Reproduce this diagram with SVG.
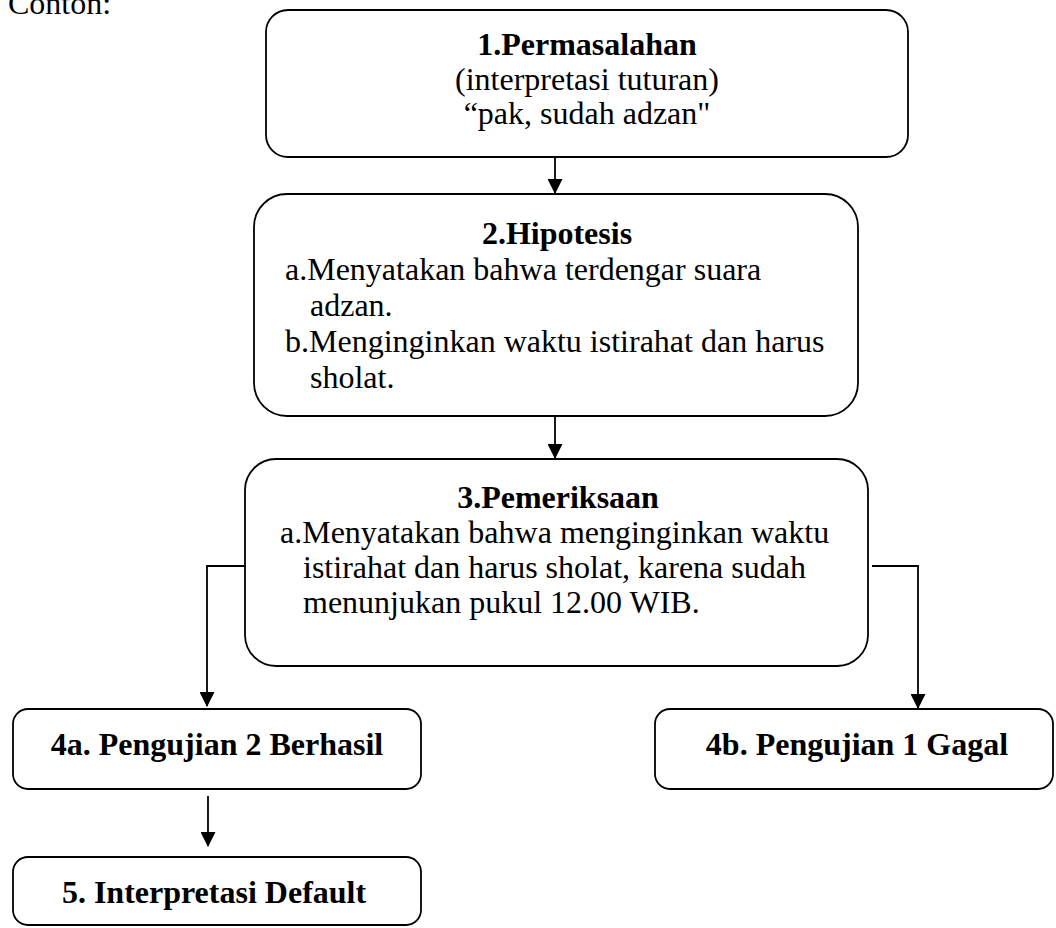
<svg xmlns="http://www.w3.org/2000/svg" width="1056" height="928" viewBox="0 0 1056 928">
<style>
text{font-family:"Liberation Serif","Times New Roman",serif;font-size:32px;fill:#000}
.b{font-weight:bold}
.c{text-anchor:middle}
.box{fill:#fff;stroke:#000;stroke-width:1.8}
.ln{fill:none;stroke:#000;stroke-width:1.8}
</style>
<defs>
<marker id="ah" markerWidth="15" markerHeight="15" viewBox="0 0 15 15" refX="14" refY="7.5" orient="auto" markerUnits="userSpaceOnUse">
<path d="M0,0 L15,7.5 L0,15 Z" fill="#000"/>
</marker>
</defs>
<rect width="1056" height="928" fill="#fff"/>
<text x="8" y="14">Conton:</text>
<g id="connectors">
<line class="ln" x1="555" y1="157" x2="555" y2="193" marker-end="url(#ah)"/>
<line class="ln" x1="555" y1="416" x2="555" y2="458" marker-end="url(#ah)"/>
<polyline class="ln" points="248,566 207,566 207,706" marker-end="url(#ah)"/>
<polyline class="ln" points="872,566 918,566 918,708" marker-end="url(#ah)"/>
<line class="ln" x1="208" y1="796" x2="208" y2="846" marker-end="url(#ah)"/>
</g>
<g id="node1">
<rect class="box" x="266" y="10" width="642" height="147" rx="22"/>
<text class="b c" x="587" y="55">1.Permasalahan</text>
<text class="c" x="587" y="90">(interpretasi tuturan)</text>
<text class="c" x="587" y="124">“pak, sudah adzan"</text>
</g>
<g id="node2">
<rect class="box" x="254" y="194" width="604" height="222" rx="33"/>
<text class="b c" x="557" y="244">2.Hipotesis</text>
<text x="285" y="280">a.Menyatakan bahwa terdengar suara</text>
<text x="310" y="316">adzan.</text>
<text x="285" y="352">b.Menginginkan waktu istirahat dan harus</text>
<text x="310" y="388">sholat.</text>
</g>
<g id="node3">
<rect class="box" x="245" y="459" width="623" height="207" rx="31"/>
<text class="b c" x="558" y="508">3.Pemeriksaan</text>
<text x="280" y="543">a.Menyatakan bahwa menginginkan waktu</text>
<text x="303" y="578">istirahat dan harus sholat, karena sudah</text>
<text x="303" y="613">menunjukan pukul 12.00 WIB.</text>
</g>
<g id="node4a">
<rect class="box" x="13" y="709" width="408" height="80" rx="15"/>
<text class="b c" x="217" y="755">4a. Pengujian 2 Berhasil</text>
</g>
<g id="node4b">
<rect class="box" x="655" y="709" width="398" height="80" rx="15"/>
<text class="b c" x="857" y="755">4b. Pengujian 1 Gagal</text>
</g>
<g id="node5">
<rect class="box" x="13" y="857" width="408" height="68" rx="15"/>
<text class="b c" x="214" y="903">5. Interpretasi Default</text>
</g>
</svg>
